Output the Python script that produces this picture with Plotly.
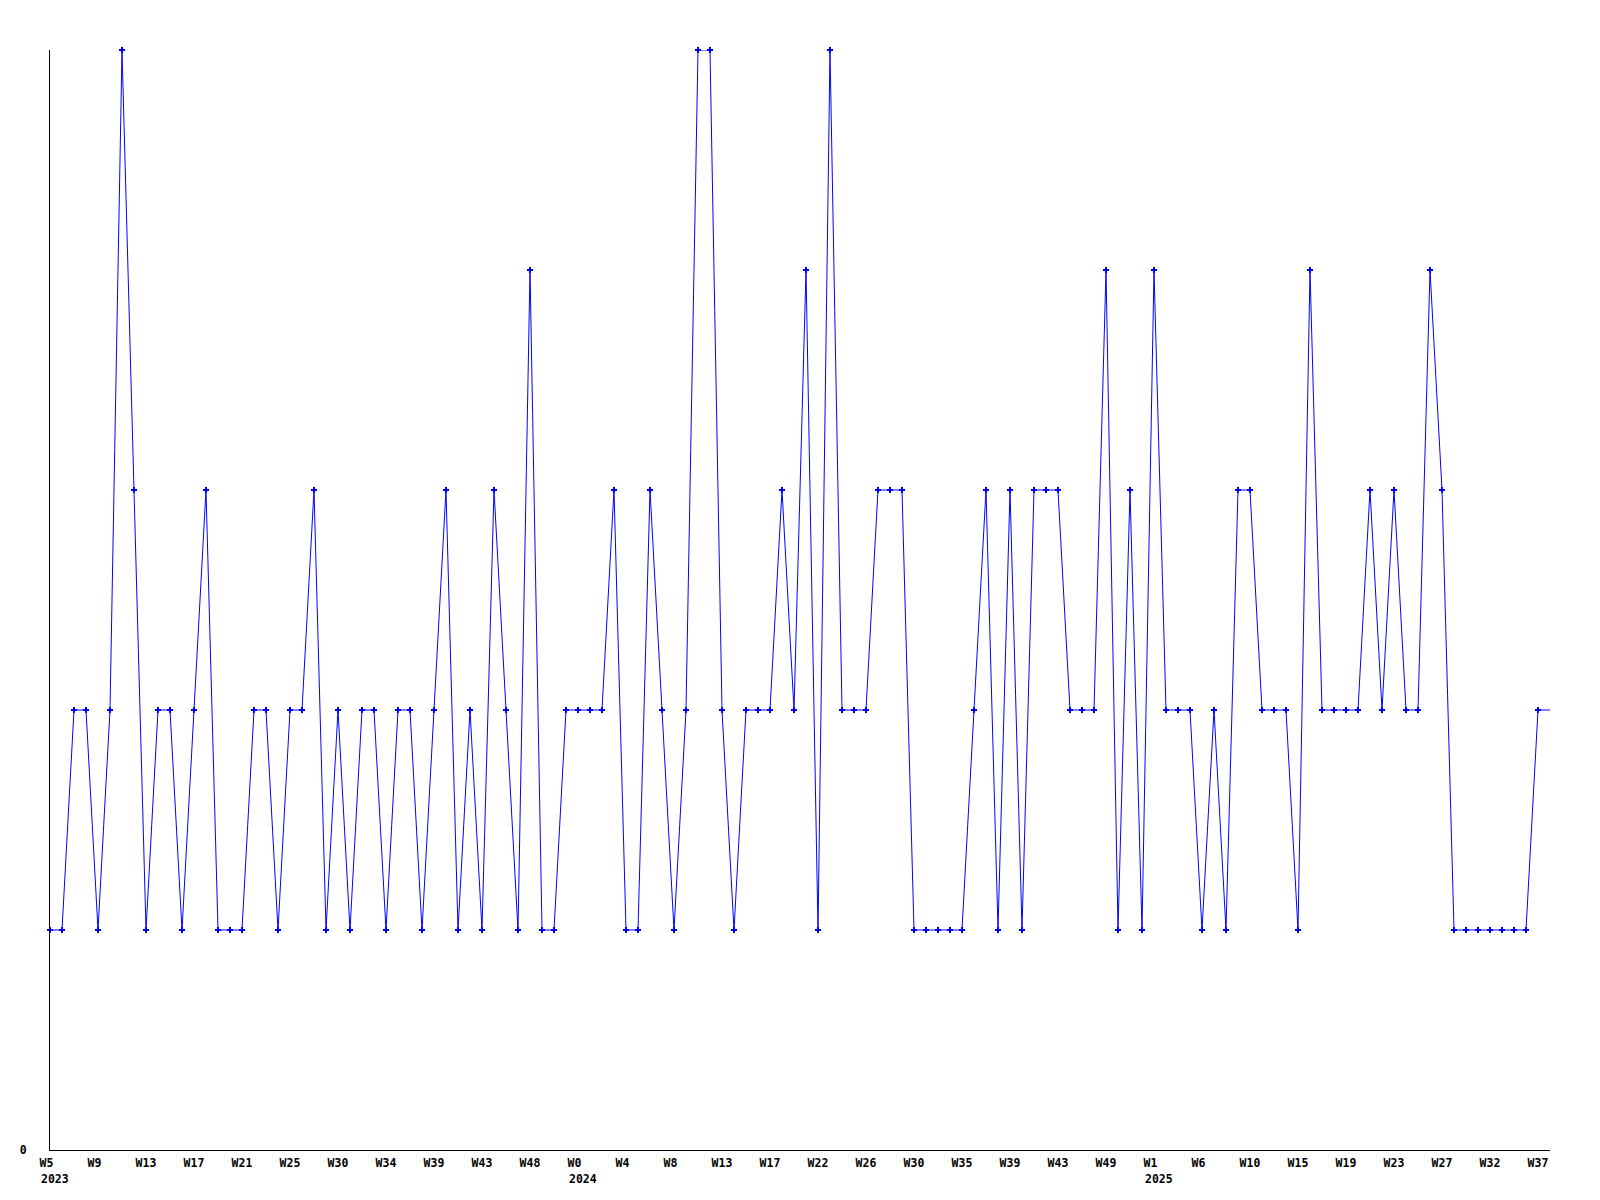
import plotly.graph_objects as go

# Weekly values (one per period); the last entry is the open/current period, drawn as line only
values = [1, 1, 2, 2, 1, 2, 5, 3, 1, 2, 2, 1, 2, 3, 1, 1, 1, 2, 2, 1,
          2, 2, 3, 1, 2, 1, 2, 2, 1, 2, 2, 1, 2, 3, 1, 2, 1, 3, 2, 1,
          4, 1, 1, 2, 2, 2, 2, 3, 1, 1, 3, 2, 1, 2, 5, 5, 2, 1, 2, 2,
          2, 3, 2, 4, 1, 5, 2, 2, 2, 3, 3, 3, 1, 1, 1, 1, 1, 2, 3, 1,
          3, 1, 3, 3, 3, 2, 2, 2, 4, 1, 3, 1, 4, 2, 2, 2, 1, 2, 1, 3,
          3, 2, 2, 2, 1, 4, 2, 2, 2, 2, 3, 2, 3, 2, 2, 4, 3, 1, 1, 1,
          1, 1, 1, 1, 2, 2]

week_labels = ["W5", "W9", "W13", "W17", "W21", "W25", "W30", "W34", "W39", "W43", "W48",
               "W0", "W4", "W8", "W13", "W17", "W22", "W26", "W30", "W35", "W39", "W43", "W49",
               "W1", "W6", "W10", "W15", "W19", "W23", "W27", "W32", "W37"]
label_step = 4
# label index -> year shown under it
year_labels = {0: "2023", 11: "2024", 23: "2025"}

n_marked = len(values) - 1
x_all = list(range(len(values)))
tick_vals = [i * label_step for i in range(len(week_labels))]

FONT = dict(family="DejaVu Sans Mono", size=11.5, color="black", weight="bold")
BLUE = "#0000ff"

fig = go.Figure()
fig.add_trace(go.Scatter(
    x=x_all, y=values, mode="lines",
    line=dict(color=BLUE, width=1), cliponaxis=False, hoverinfo="skip",
))
fig.add_trace(go.Scatter(
    x=x_all[:n_marked], y=values[:n_marked], mode="markers",
    marker=dict(symbol="cross", size=5, color=BLUE, line=dict(width=0)),
    cliponaxis=False,
))

annotations = []
for idx, year in year_labels.items():
    annotations.append(dict(
        x=tick_vals[idx], xref="x", y=0, yref="paper", text=year,
        xanchor="left", yanchor="middle", xshift=-11, yshift=-29,
        showarrow=False, font=FONT,
    ))

# the page body has an 8px default margin; size the figure so the plot area
# lands at 50..1550 x 50..1150 in the browser window
fig.update_layout(
    width=1592, height=1192,
    margin=dict(l=42, r=50, t=42, b=50),
    paper_bgcolor="white", plot_bgcolor="white",
    showlegend=False,
    font=FONT,
    annotations=annotations,
    xaxis=dict(
        range=[0, len(values) - 1],
        tickmode="array", tickvals=tick_vals,
        ticktext=[lab if len(lab) >= 3 else lab + "\u00a0" for lab in week_labels],
        showgrid=False, zeroline=False,
        showline=True, linecolor="black", linewidth=1,
        ticks="outside", ticklen=2, tickcolor="rgba(0,0,0,0)",
        tickangle=0, tickfont=FONT,
    ),
    yaxis=dict(
        range=[0, 5],
        tickmode="array", tickvals=[0], ticktext=["0"],
        showgrid=False, zeroline=False,
        showline=True, linecolor="black", linewidth=1,
        ticks="outside", ticklen=20, tickcolor="rgba(0,0,0,0)",
        tickfont=FONT,
    ),
)

fig.write_html("out.html")
